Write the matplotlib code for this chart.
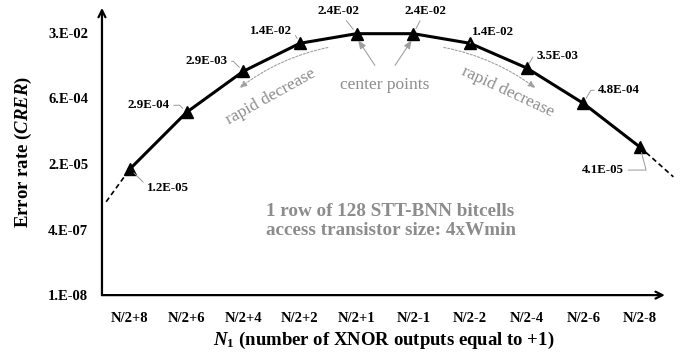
import matplotlib
matplotlib.use('Agg')
import matplotlib.pyplot as plt
import numpy as np

plt.rcParams['font.family'] = 'Liberation Serif'
plt.rcParams['font.weight'] = 'bold'
plt.rcParams['axes.labelweight'] = 'bold'
plt.rcParams['mathtext.fontset'] = 'custom'
plt.rcParams['mathtext.rm'] = 'Liberation Serif:bold'
plt.rcParams['mathtext.it'] = 'Liberation Serif:italic:bold'
plt.rcParams['mathtext.bf'] = 'Liberation Serif:bold'

# data
categories = ['N/2+8', 'N/2+6', 'N/2+4', 'N/2+2', 'N/2+1',
              'N/2-1', 'N/2-2', 'N/2-4', 'N/2-6', 'N/2-8']
error_rate = [1.2e-5, 2.9e-4, 2.9e-3, 1.4e-2, 2.4e-2,
              2.4e-2, 1.4e-2, 3.5e-3, 4.8e-4, 4.1e-5]
labels = ['1.2E-05', '2.9E-04', '2.9E-03', '1.4E-02', '2.4E-02',
          '2.4E-02', '1.4E-02', '3.5E-03', '4.8E-04', '4.1E-05']
# dashed extrapolation beyond both ends
ext_left_x = [-0.42, 0]
ext_left_y = [1.9e-6, 1.2e-5]
ext_right_x = [9, 9.59]
ext_right_y = [4.1e-5, 7.7e-6]

ytick_vals = [1e-8, 10**-6.4, 10**-4.8, 10**-3.2, 10**-1.6]
ytick_labels = ['1.E-08', '4.E-07', '2.E-05', '6.E-04', '3.E-02']

fig = plt.figure(figsize=(6.89, 3.56), dpi=100)
ax = fig.add_axes([0.148, 0.171, 0.817, 0.807])

x = np.arange(len(categories))
ax.plot(x, error_rate, color='black', lw=2.2, marker='^', markersize=8, zorder=3)
ax.plot(ext_left_x, ext_left_y, color='black', lw=1.2, ls=(0, (3, 2)), clip_on=False)
ax.plot(ext_right_x, ext_right_y, color='black', lw=1.2, ls=(0, (3, 2)), clip_on=False)

ax.set_yscale('log')
ax.set_ylim(1e-8, 10**-0.989)
ax.set_xlim(-0.494, 9.44)
ax.set_yticks(ytick_vals)
ax.set_yticklabels(ytick_labels)
ax.minorticks_off()
ax.set_xticks(x)
ax.set_xticklabels(categories)
ax.tick_params(axis='both', length=0, labelsize=10.5)
ax.tick_params(axis='y', pad=10)
ax.tick_params(axis='x', pad=12)

for s in ax.spines.values():
    s.set_visible(False)
arrow = dict(arrowstyle='->,head_width=0.25,head_length=0.5', color='black', lw=1.6,
             shrinkA=0, shrinkB=0)
ax.annotate('', xy=(0, 1), xytext=(0, 0), xycoords='axes fraction', arrowprops=arrow)
ax.annotate('', xy=(1, 0), xytext=(0, 0), xycoords='axes fraction', arrowprops=arrow)

ax.set_ylabel('Error rate ($CRER$)', fontsize=13.5, fontweight='bold', labelpad=10)
ax.set_xlabel('$N_1$ (number of XNOR outputs equal to +1)', fontsize=13.5,
              fontweight='bold', labelpad=4)

# value labels with leader lines
offsets = [(38, -19), (-38, 7), (-37, 10), (-29, 12), (-18, 23),
           (12, 23), (23, 11), (31, 12), (36, 13), (-37, -23)]
angles = [-45, 135, 135, 120, None, None, 60, 60, 60, -75]
for i in range(len(x)):
    if angles[i] is None:
        cs = 'arc3,rad=0'
    else:
        cs = 'angle,angleA=0,angleB=%d,rad=0' % angles[i]
    ax.annotate(labels[i], xy=(x[i], error_rate[i]), xytext=offsets[i],
                textcoords='offset pixels', ha='center', va='center',
                fontsize=9.3, fontweight='bold',
                arrowprops=dict(arrowstyle='-', color='#9a9a9a', lw=0.7,
                                connectionstyle=cs, shrinkA=1, shrinkB=4))

gray = '#8c8c8c'
ax.text(4.6, 10**-6.19, '1 row of 128 STT-BNN bitcells\naccess transistor size: 4xWmin',
        ha='center', va='center', color=gray, fontsize=13.8, fontweight='bold',
        linespacing=1.2)

ax.text(4.5, 10**-2.87, 'center points', ha='center', va='center', color=gray,
        fontsize=12.5, fontweight='normal')
for xi in [4, 5]:
    ax.annotate('', xy=(xi, 1.9e-2), xytext=(4.5 + (xi - 4.5) * 0.3, 10**-2.45),
                arrowprops=dict(arrowstyle='-|>,head_width=0.2,head_length=0.5',
                                color='#a0a0a0', lw=0.8))

ax.text(2.48, 10**-3.16, 'rapid decrease', ha='center', va='center', color=gray,
        fontsize=12.5, fontweight='normal', rotation=29, rotation_mode='anchor')
ax.text(6.67, 10**-3.04, 'rapid decrease', ha='center', va='center', color=gray,
        fontsize=12.5, fontweight='normal', rotation=-25, rotation_mode='anchor')
dash_arrow = dict(arrowstyle='-|>,head_width=0.18,head_length=0.45', color='#a0a0a0',
                  lw=0.8, ls=(0, (2, 1.5)))
ax.annotate('', xy=(1.89, 1.02e-3), xytext=(3.54, 1.14e-2),
            arrowprops=dict(dash_arrow, connectionstyle='arc3,rad=0.12'))
ax.annotate('', xy=(7.2, 1.02e-3), xytext=(5.49, 1.14e-2),
            arrowprops=dict(dash_arrow, connectionstyle='arc3,rad=-0.12'))

fig.savefig('out.png', dpi=100)
